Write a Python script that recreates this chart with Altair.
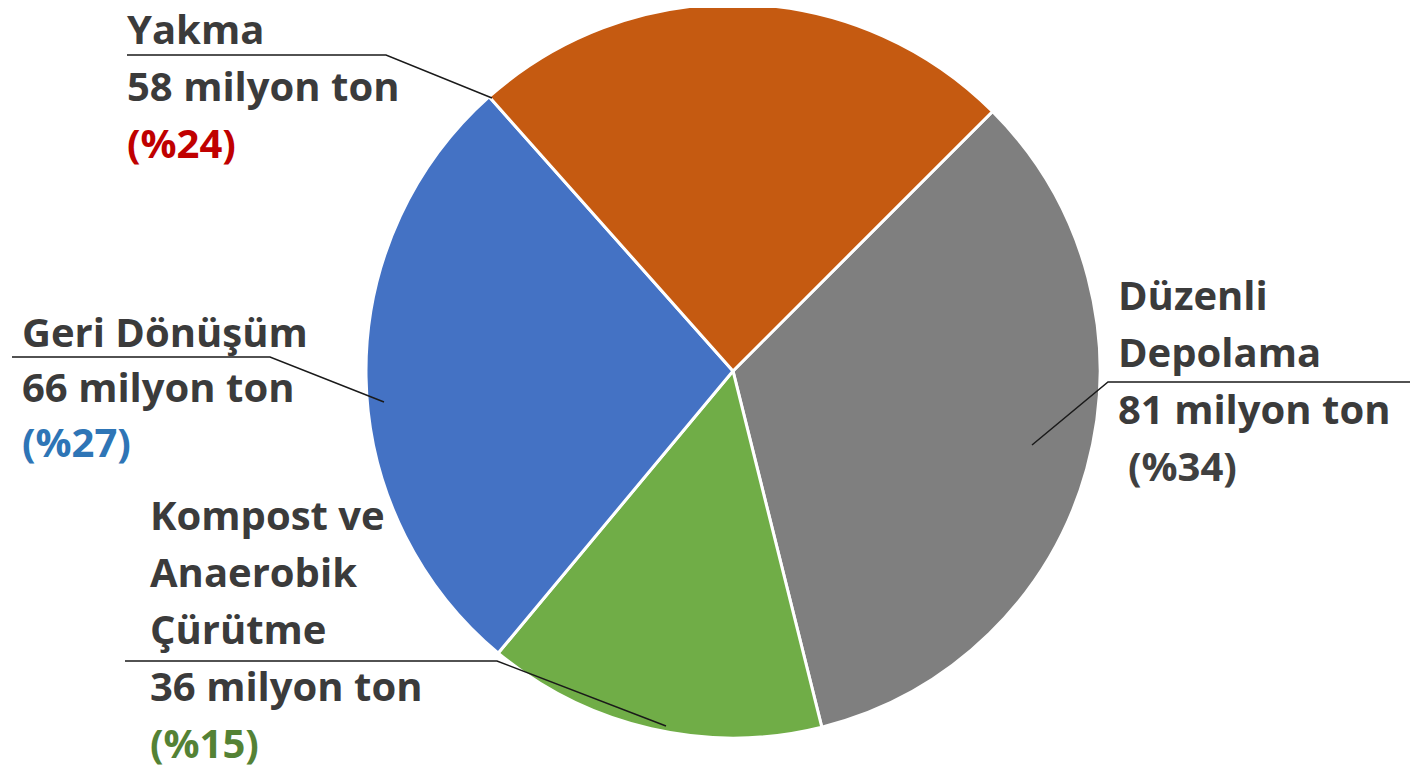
import math
import altair as alt
import pandas as pd

# ---- data ----
categories = ["Düzenli Depolama", "Kompost ve Anaerobik Çürütme", "Geri Dönüşüm", "Yakma"]
name_lines = [["Düzenli", "Depolama"], ["Kompost ve", "Anaerobik", "Çürütme"], ["Geri Dönüşüm"], ["Yakma"]]
values = [81, 36, 66, 58]          # milyon ton
unit = "milyon ton"

# ---- styles / layout ----
slice_colors = ["#7F7F7F", "#70AD47", "#4472C4", "#C55A11"]
pct_colors = ["#404040", "#548235", "#2E75B6", "#C00000"]
text_color = "#3B3B3B"
W, H, M = 1407, 761, 8
center = (733, 371)
radius = 367
# label anchor: left x, first baseline y, line spacing, indent of pct line
label_layout = [(1118, 310, 57, 10), (150, 530, 57, 0), (22, 347, 55, 0), (127, 44, 57, 0)]
# leader lines (page pixel coords)
leader_paths = [
    [(1410, 382), (1108, 382), (1032, 445)],
    [(125, 661), (497, 661), (666, 726)],
    [(12, 357), (270, 357), (384, 402)],
    [(127, 55), (386, 55), (492, 98)],
]

total = sum(values)
pie_df = pd.DataFrame({"cat": categories, "value": values, "order": list(range(len(values)))})

rows = []
for i, cat in enumerate(categories):
    x0, y0, sp, ind = label_layout[i]
    lines = name_lines[i] + [f"{values[i]} {unit}"]
    for j, t in enumerate(lines):
        rows.append({"x": x0, "y": y0 + j * sp, "t": t, "c": text_color})
    pct = round(values[i] / total * 100)
    rows.append({"x": x0 + ind, "y": y0 + len(lines) * sp, "t": f"(%{pct})", "c": pct_colors[i]})
text_df = pd.DataFrame(rows)

lrows = []
for i, path in enumerate(leader_paths):
    for k, (px, py) in enumerate(path):
        lrows.append({"g": i, "k": k, "x": px, "y": py})
line_df = pd.DataFrame(lrows)

xs = alt.Scale(domain=[M, M + W], range=[0, W])
ys = alt.Scale(domain=[M, M + H], range=[0, H])

pie = alt.Chart(pie_df).mark_arc(radius=radius, stroke="white", strokeWidth=3).encode(
    theta=alt.Theta("value:Q", stack=True,
                    scale=alt.Scale(range=[math.pi / 4, math.pi / 4 + 2 * math.pi])),
    order=alt.Order("order:Q"),
    color=alt.Color("cat:N", scale=alt.Scale(domain=categories, range=slice_colors), legend=None),
    x=alt.value(center[0] - M),
    y=alt.value(center[1] - M),
)

leaders = alt.Chart(line_df).mark_line(color="#1a1a1a", strokeWidth=1.5).encode(
    x=alt.X("x:Q", scale=xs, axis=None),
    y=alt.Y("y:Q", scale=ys, axis=None),
    detail="g:N",
    order="k:Q",
)

texts = alt.Chart(text_df).mark_text(
    font="Open Sans", fontWeight="bold", fontSize=40, align="left", baseline="alphabetic"
).encode(
    x=alt.X("x:Q", scale=xs, axis=None),
    y=alt.Y("y:Q", scale=ys, axis=None),
    text="t:N",
    color=alt.Color("c:N", scale=None),
)

chart = alt.layer(pie, leaders, texts).properties(
    width=W, height=H, autosize=alt.AutoSizeParams(type="none"), padding=0
).configure_view(stroke=None)

chart.save("out.html", embed_options={"renderer": "svg", "actions": False})
